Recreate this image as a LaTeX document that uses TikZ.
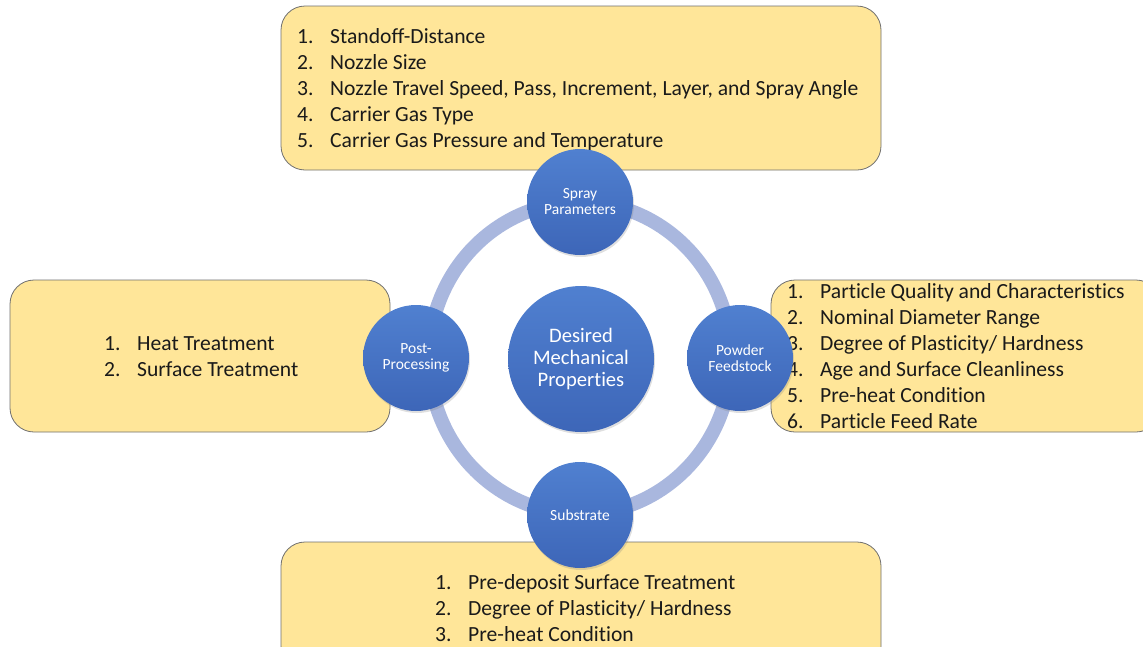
\documentclass[tikz,border=0pt]{standalone}
\usepackage{fontspec}
\setmainfont[Ligatures={NoCommon}]{Carlito}
\usepackage{array}
\usetikzlibrary{shadows}
\definecolor{boxfill}{HTML}{FFE699}
\definecolor{boxline}{HTML}{6F6F6F}
\definecolor{ringcol}{HTML}{A9B7DE}
\definecolor{blueA}{HTML}{5080D0}
\definecolor{blueB}{HTML}{3D66B8}
\definecolor{txt}{HTML}{1A1A1A}
\tikzset{
  x=1pt, y=1pt,
  listbox/.style={draw=boxline, line width=0.8pt, fill=boxfill, rounded corners=24pt},
  listtext/.style={anchor=base west, inner sep=0pt, text=txt,
    font=\fontsize{21.6}{26}\selectfont},
  ball/.style={circle, minimum size=106pt, inner sep=0pt, top color=blueA, bottom color=blueB,
    draw=none, text=white, align=center, font=\fontsize{15.5}{16}\selectfont,
    drop shadow={opacity=0.25, shadow xshift=1pt, shadow yshift=-2pt}},
  bigball/.style={ball, minimum size=146pt, font=\fontsize{20.6}{22}\selectfont},
  ring/.style={draw=ringcol, line width=14pt}
}
\newcommand{\listtab}[1]{\begin{tabular}[t]{@{}p{33pt}@{}l@{}}#1\end{tabular}}
\begin{document}
\begin{tikzpicture}
\useasboundingbox (0,0) rectangle (1143,-646);
% boxes
\draw[listbox] (281,-6) rectangle (881,-170);
\draw[listbox] (10,-280) rectangle (390,-432);
\draw[listbox] (771,-280) rectangle (1160,-432);
\draw[listbox] (281,-542) rectangle (881,-670);
% lists
\node[listtext] (toplist) at (297,-43) {\listtab{1. & Standoff-Distance\\ 2. & Nozzle Size\\ 3. & Nozzle Travel Speed, Pass, Increment, Layer, and Spray Angle\\ 4. & Carrier Gas Type\\ 5. & Carrier Gas Pressure and Temperature}};
\node[listtext] (leftlist) at (104,-350) {\listtab{1. & Heat Treatment\\ 2. & Surface Treatment}};
\node[listtext] (rightlist) at (787,-298) {\listtab{1. & Particle Quality and Characteristics\\ 2. & Nominal Diameter Range\\ 3. & Degree of Plasticity/ Hardness\\ 4. & Age and Surface Cleanliness\\ 5. & Pre-heat Condition\\ 6. & Particle Feed Rate}};
\node[listtext] (bottomlist) at (435,-589) {\listtab{1. & Pre-deposit Surface Treatment\\ 2. & Degree of Plasticity/ Hardness\\ 3. & Pre-heat Condition}};
% ring
\draw[ring] (580,-358) ellipse [x radius=151, y radius=156];
% circles
\node[bigball] (center) at (581,-359) {Desired\\Mechanical\\Properties};
\node[ball] (spray) at (580,-202) {Spray\\Parameters};
\node[ball] (post) at (416,-358) {Post-\\Processing};
\node[ball] (powder) at (740,-358) {Powder\\Feedstock};
\node[ball] (substrate) at (580,-515) {Substrate};
\end{tikzpicture}
\end{document}
